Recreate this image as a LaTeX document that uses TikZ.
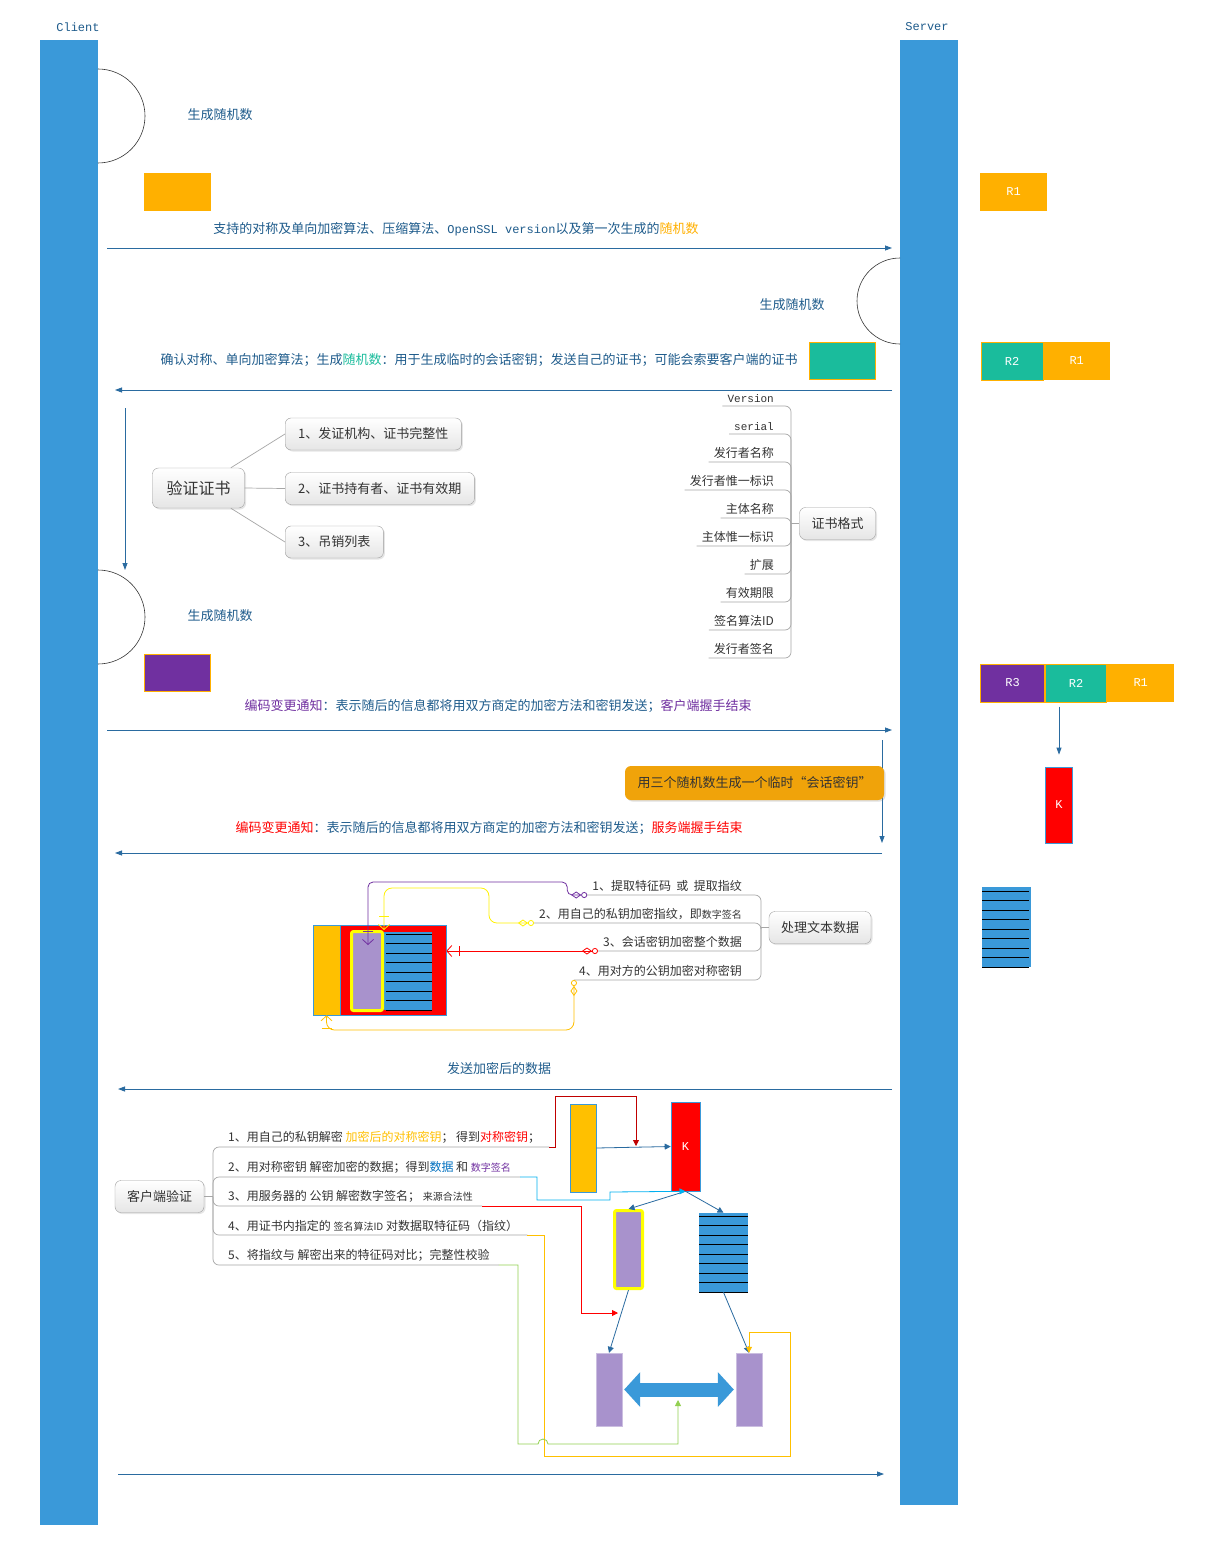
\documentclass[tikz,border=0pt]{standalone}
\usepackage{fontspec}
\setmainfont{Noto Sans CJK SC}
\newfontfamily\monofont{Liberation Mono}
\usepackage{xcolor}
\usepackage{tikz}
\usetikzlibrary{arrows.meta, positioning, calc, shadows}
\definecolor{barblue}{HTML}{3A99D9}
\definecolor{lineblue}{HTML}{2A6BA0}
\definecolor{txtblue}{HTML}{1F5C8C}
\definecolor{rorange}{HTML}{FFB000}
\definecolor{rteal}{HTML}{1ABC9C}
\definecolor{rpurple}{HTML}{7030A0}
\definecolor{lav}{HTML}{A892CC}
\definecolor{kgold}{HTML}{F0A30A}
\definecolor{dkred}{HTML}{C00000}
\definecolor{skyc}{HTML}{00B0F0}
\definecolor{lgreen}{HTML}{92D050}
\definecolor{amber}{HTML}{FFC000}
\definecolor{ink}{HTML}{333333}
\definecolor{yel}{HTML}{FFFF00}
\definecolor{datablue}{HTML}{0070C0}
\newcommand\fsz[1]{\fontsize{#1}{#1}\selectfont}

\tikzset{
  msg/.style={draw=lineblue, line width=0.8pt, -{Triangle[length=7pt,width=5pt]}},
  tag/.style={font=\fsz{13}, text=txtblue, inner sep=1pt},
  rbox/.style={font=\monofont\fsz{12}, text=white, inner sep=0pt, minimum height=38pt},
  mmbox/.style={draw=gray!75, rounded corners=6pt, top color=white, bottom color=gray!20,
    drop shadow={opacity=0.2, shadow xshift=1.5pt, shadow yshift=-1.5pt},
    font=\fsz{13}, text=ink, inner xsep=12pt, minimum height=32pt},
  mmline/.style={draw=gray!70, line width=0.7pt, rounded corners=6pt},
  leaf/.style={font=\fsz{12}, text=ink, inner xsep=5pt, inner ysep=3pt},
  block/.style={draw=barblue, line width=0.6pt, inner sep=0pt},
  erlink/.style={line width=0.8pt, rounded corners=8pt,
    {Circle[open,length=6pt,width=6pt]Diamond[open,length=10pt,width=7pt]}-{Bar[width=10pt,sep=7pt]Straight Barb[length=5pt,width=11pt]}},
  flow/.style={line width=0.8pt, -{Triangle[length=6pt,width=6pt]}},
}

\begin{document}
\begin{tikzpicture}[x=1pt, y=-1pt]
\fill[white] (0,0) rectangle (1211,1562);
\useasboundingbox (0,0) rectangle (1211,1562);

% lifelines
\fill[barblue] (40,40) rectangle (98,1525);
\fill[barblue] (900,40) rectangle (958,1505);
\node[font=\monofont\fsz{12}, text=txtblue] (client) at (78,27) {Client};
\node[font=\monofont\fsz{12}, text=txtblue] (server) at (927,27) {Server};

% client hello
\draw[gray!40!black, line width=0.6pt] (98,69) arc[start angle=90, end angle=-90, radius=47pt];
\node[tag] (gen1) at (220,115) {生成随机数};
\fill[rorange] (144,173) rectangle (211,211);
\node[rbox, fill=rorange, minimum width=67pt] (r1a) at (1013.5,192) {R1};
\node[tag] (hello1) at (456,229) {支持的对称及单向加密算法、压缩算法、{\monofont\fsz{12}OpenSSL version}以及第一次生成的{\color{rorange}随机数}};
\coordinate (m1a) at (107,248);
\coordinate (m1b) at (892,248);
\draw[msg] (m1a) -- (m1b);

% server hello
\draw[gray!40!black, line width=0.6pt] (900,258) arc[start angle=90, end angle=270, radius=43pt];
\node[tag] (gen2) at (792,305) {生成随机数};
\node[block, fill=rteal, draw=rorange, minimum width=66pt, minimum height=37pt] (r2s) at (842.5,361) {};
\node[rbox, fill=rteal, draw=rorange, line width=1pt, minimum width=62pt] (r2b) at (1012,361) {R2};
\node[rbox, fill=rorange, minimum width=66pt, right=0pt of r2b] (r1b) {R1};
\node[tag] (hello2) at (479,360) {确认对称、单向加密算法；生成{\color{rteal}随机数}：用于生成临时的会话密钥；发送自己的证书；可能会索要客户端的证书};
\coordinate (m2a) at (892,390);
\coordinate (m2b) at (115,390);
\draw[msg] (m2a) -- (m2b);
\coordinate (m3a) at (125,408);
\coordinate (m3b) at (125,570);
\draw[msg] (m3a) -- (m3b);

% verify certificate
\node[mmbox, font=\fsz{16}, minimum height=40pt, inner xsep=14pt] (yz) at (198.5,488) {验证证书};
\node[mmbox, anchor=west, inner xsep=13pt] (yz1) at (285,434) {1、发证机构、证书完整性};
\node[mmbox, anchor=west, inner xsep=13pt] (yz2) at (285,488.5) {2、证书持有者、证书有效期};
\node[mmbox, anchor=west, inner xsep=13pt] (yz3) at (285,542) {3、吊销列表};
\draw[mmline] (yz.32) -- (yz1.west);
\draw[mmline] (yz.east) -- (yz2.west);
\draw[mmline] (yz.-32) -- (yz3.west);

% certificate format
\node[mmbox] (fmt) at (837.5,523.5) {证书格式};
\coordinate (fmtj) at (791,523.5);
\foreach \lbl/\yy [count=\i] in {{\monofont\fsz{11}Version}/406, {\monofont\fsz{11}serial}/434,
    发行者名称/462, 发行者惟一标识/490, 主体名称/518, 主体惟一标识/546,
    扩展/574, 有效期限/602, 签名算法ID/630, 发行者签名/658}{
  \node[leaf, anchor=south east] (ct\i) at (779,\yy) {\lbl};
  \draw[mmline] (ct\i.south west) -| (fmtj);
}
\draw[mmline] (fmtj) -- (fmt.west);

% client key exchange
\draw[gray!40!black, line width=0.6pt] (98,570) arc[start angle=90, end angle=-90, radius=47pt];
\node[tag] (gen3) at (220,616) {生成随机数};
\node[block, fill=rpurple, draw=rorange, minimum width=66pt, minimum height=37pt] (r3s) at (177.5,673) {};
\node[rbox, fill=rpurple, draw=rorange, line width=1pt, minimum width=64pt] (r3c) at (1012.5,683) {R3};
\node[rbox, fill=rteal, draw=rorange, line width=1pt, minimum width=61pt, right=0pt of r3c] (r2c) {R2};
\node[rbox, fill=rorange, minimum width=67pt, right=0pt of r2c] (r1c) {R1};
\node[rbox, fill=red, draw=barblue, line width=0.8pt, minimum width=27pt, minimum height=76pt] (kr) at (1059,805) {K};
\draw[msg, shorten <=4pt, shorten >=12pt] (r2c.south -| kr.north) -- (kr.north);
\node[block, fill=barblue, draw=none, minimum width=49pt, minimum height=80pt] (sr2) at (1006.5,927) {};
\foreach \k in {0,...,8}
  \draw[black, line width=0.9pt] (982,891+\k*9.5) -- (1029,891+\k*9.5);
\node[tag] (chg1) at (498,706) {{\color{rpurple}编码变更通知}：表示随后的信息都将用双方商定的加密方法和密钥发送；{\color{rpurple}客户端握手结束}};
\coordinate (m4a) at (107,730);
\coordinate (m4b) at (892,730);
\draw[msg] (m4a) -- (m4b);
\coordinate (m5a) at (882,740);
\coordinate (m5b) at (882,843);
\draw[msg] (m5a) -- (m5b);
\node[fill=kgold, rounded corners=6pt, drop shadow={opacity=0.25, shadow xshift=1.5pt, shadow yshift=-1.5pt},
  font=\fsz{13}, text=ink, minimum width=259pt, minimum height=34pt] (sk) at (754.5,783) {用三个随机数生成一个临时“会话密钥”};
\node[tag] (chg2) at (489,828) {{\color{red}编码变更通知}：表示随后的信息都将用双方商定的加密方法和密钥发送；{\color{red}服务端握手结束}};
\coordinate (m6a) at (882,853);
\coordinate (m6b) at (115,853);
\draw[msg] (m6a) -- (m6b);

% process data
\node[block, fill=amber, minimum width=27pt, minimum height=90pt] (so) at (326.5,970) {};
\node[block, fill=red, minimum width=106pt, minimum height=90pt] (sr) at (393,970) {};
\node[block, fill=barblue, draw=none, minimum width=48pt, minimum height=78pt] (ss) at (408,971) {};
\foreach \k in {0,...,8}
  \draw[black, line width=0.9pt] (386,934+\k*9.5) -- (432,934+\k*9.5);
\node[fill=lav, draw=yel, line width=3pt, rounded corners=2pt, inner sep=0pt, minimum width=31pt, minimum height=79pt] (sp) at (367,971) {};
\node[mmbox] (proc) at (820,927.5) {处理文本数据};
\coordinate (procj) at (761,927.5);
\node[leaf, anchor=south east] (pt1) at (747,895) {1、提取特征码 ~或~ 提取指纹};
\node[leaf, anchor=south east] (pt2) at (747,923) {2、用自己的私钥加密指纹，即{\fsz{10}数字签名}};
\node[leaf, anchor=south east] (pt3) at (747,951) {3、会话密钥加密整个数据};
\node[leaf, anchor=south east] (pt4) at (747,980) {4、用对方的公钥加密对称密钥};
\foreach \i in {1,...,4}
  \draw[mmline] (pt\i.south west) -| (procj);
\draw[mmline] (procj) -- (proc.west);
\coordinate (pin) at (368,945);
\draw[erlink, rpurple, rounded corners=5pt] (pt1.south west) -- ++(-20,0) |- (pin |- 0,882) -- (pin);
\draw[erlink, yel!90!orange] (pt2.south west) -- ++(-45,0) |- (sp.north east |- 0,888) -- (sp.north east);
\draw[erlink, red] (pt3.south west) -- (pt3.south west -| sr.east);
\draw[erlink, amber] (pt4.south west) -- ++(0,50) -| (so.south);

\node[tag] (send) at (499,1069) {发送加密后的数据};
\coordinate (m7a) at (892,1089);
\coordinate (m7b) at (118,1089);
\draw[msg] (m7a) -- (m7b);

% client verification
\node[mmbox] (cv) at (159.5,1196.5) {客户端验证};
\coordinate (cvj) at (213,1196.5);
\node[leaf, anchor=south west, inner xsep=9pt] (cl1) at (219,1147) {1、用自己的私钥解密 {\color{amber}加密后的对称密钥}；~得到{\color{red}对称密钥}；};
\node[leaf, anchor=south west, inner xsep=9pt] (cl2) at (219,1177) {2、用对称密钥 解密加密的数据；得到{\color{datablue}数据} 和 {\fsz{10}\color{rpurple}数字签名}};
\node[leaf, anchor=south west, inner xsep=9pt] (cl3) at (219,1206) {3、用服务器的 公钥 解密数字签名； {\fsz{10}来源合法性}};
\node[leaf, anchor=south west, inner xsep=9pt] (cl4) at (219,1235) {4、用证书内指定的 {\fsz{10}签名算法ID} 对数据取特征码（指纹）};
\node[leaf, anchor=south west, inner xsep=9pt] (cl5) at (219,1265) {5、将指纹与 解密出来的特征码对比；完整性校验};
\foreach \i in {1,...,5}
  \draw[mmline] (cvj) |- (cl\i.south east);
\draw[mmline] (cv.east) -- (cvj);

\node[block, fill=amber, minimum width=26pt, minimum height=88pt] (ko) at (583,1148) {};
\node[block, fill=red, minimum width=29pt, minimum height=89pt, font=\monofont\fsz{12}, text=white] (kb) at (685.5,1146.5) {K};
\node[fill=lav, draw=yel, line width=3pt, rounded corners=2pt, inner sep=0pt, minimum width=28pt, minimum height=78pt] (ys) at (628.5,1249.5) {};
\node[block, fill=barblue, draw=none, minimum width=49pt, minimum height=79pt] (sb) at (723.5,1252.5) {};
\foreach \k in {0,...,8}
  \draw[black, line width=0.9pt] (699,1216+\k*9.5) -- (748,1216+\k*9.5);
\node[fill=lav, draw=lav!60, inner sep=0pt, minimum width=26pt, minimum height=73pt] (pl) at (609,1389.5) {};
\node[fill=lav, draw=lav!60, inner sep=0pt, minimum width=26pt, minimum height=73pt] (pr) at (749,1389.5) {};
\draw[flow, lineblue] (ko.east) -- (kb.west);
\draw[flow, lineblue] (kb.south) -- (ys.north);
\draw[flow, lineblue] (kb.south) -- (sb.north);
\draw[flow, lineblue] (ys.south) -- (pl.north);
\draw[flow, lineblue] (sb.south) -- (pr.north);
\draw[barblue, line width=14pt, {Triangle[length=16pt,width=34pt]}-{Triangle[length=16pt,width=34pt]}, shorten <=2pt, shorten >=2pt] (pl.east) -- (pr.west);

\coordinate (kd) at (636,1146);
\coordinate (rtip) at (618,1313);
\coordinate (gtip) at (678,1400);
\draw[flow, dkred] (cl1.south east) -| (555,1096) -| (kd);
\draw[flow, skyc] (cl2.south east) -| (537,1200) -| (610,1192) -- (kb.south);
\draw[flow, red] (cl3.south east) -| (581,1313) -- (rtip);
\draw[flow, amber] (cl4.south east) -| (544,1456) -| (790,1332) -| (pr.north);
\draw[flow, lgreen] (cl5.south east) -| (518,1444) -- (538,1444) arc[start angle=180, end angle=0, radius=5pt] -- (gtip |- 0,1444) -- (gtip);

\coordinate (m8a) at (118,1474);
\coordinate (m8b) at (884,1474);
\draw[msg] (m8a) -- (m8b);
\end{tikzpicture}
\end{document}
